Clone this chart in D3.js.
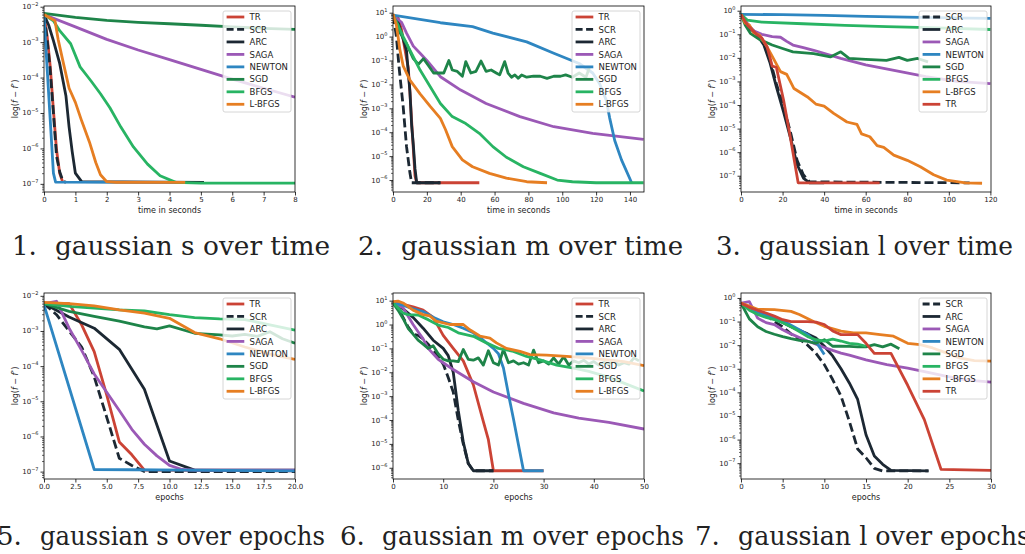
<!DOCTYPE html>
<html>
<head>
<meta charset="utf-8">
<script src="https://cdn.jsdelivr.net/npm/d3@7"></script>
<style>
  body { margin: 0; background: #fff; }
  text { font-family: "DejaVu Sans", sans-serif; fill: #222; }
</style>
</head>
<body>
<svg id="fig" width="1025" height="554"></svg>
<script>
// ---- data: [x, f - f*] pairs ----
// 1. gaussian s over time
const sTimeTR = [[0,6e-3],[0.1,1.5e-3],[0.2,2e-4],[0.3,1.2e-5],[0.4,9e-7],[0.5,2e-7],[0.6,1.1e-7]];
const sTimeSCR = [[0,6e-3],[0.1,1.2e-3],[0.2,1.5e-4],[0.3,1e-5],[0.4,6e-7],[0.5,2.2e-7],[0.6,1.2e-7],[0.7,1.1e-7]];
const sTimeARC = [[0,6e-3],[0.15,3e-3],[0.3,1.1e-3],[0.5,2.5e-4],[0.7,3e-5],[0.8,4e-6],[0.9,8e-7],[1.0,2e-7],[1.2,1.15e-7],[5.1,1.1e-7]];
const sTimeSAGA = [[0,6e-3],[1,2.7e-3],[2,1.2e-3],[3,6e-4],[4,3.2e-4],[5,1.7e-4],[6,9e-5],[7,5e-5],[8,2.8e-5]];
const sTimeNEWTON = [[0,6e-3],[0.05,1e-3],[0.3,2e-7],[0.37,1.12e-7],[4.5,1.1e-7]];
const sTimeSGD = [[0,6.5e-3],[1,5e-3],[2,4.1e-3],[3,3.6e-3],[4,3.3e-3],[5,3e-3],[6,2.7e-3],[7,2.45e-3],[8,2.3e-3]];
const sTimeBFGS = [[0,6e-3],[0.3,4e-3],[0.5,2.1e-3],[0.85,9e-4],[1.15,2e-4],[1.5,8e-5],[1.8,3.5e-5],[2.1,1.4e-5],[2.45,4e-6],[2.85,1.1e-6],[3.3,3.6e-7],[3.7,1.7e-7],[4.2,1.1e-7],[5,1.05e-7],[8,1.05e-7]];
const sTimeLBFGS = [[0,6e-3],[0.35,4e-3],[0.45,1.2e-3],[0.6,3e-4],[0.8,5e-5],[1.0,2e-5],[1.2,6e-6],[1.45,1.5e-6],[1.65,4e-7],[1.8,1.8e-7],[2.0,1.15e-7],[2.3,1.1e-7],[4.5,1.1e-7]];

// 2. gaussian m over time
const mTimeTR = [[0,8],[3,6],[5,2],[7,0.3],[9,0.05],[10,5e-3],[11,3e-4],[12,2e-5],[13,1.5e-6],[14,7.7e-7],[51,7.7e-7]];
const mTimeSCR = [[0,8],[1,3],[2,1],[3.5,0.06],[6,1.2e-3],[8,2.5e-5],[10,2e-6],[11,7.7e-7],[28,7.7e-7]];
const mTimeARC = [[0,8],[3,4],[6,0.8],[8,0.25],[10,5e-3],[11,2e-4],[12,3e-5],[13,3e-6],[14,7.7e-7],[28,7.7e-7]];
const mTimeSAGA = [[0,8],[5,4],[8,1.4],[12,0.4],[16,0.2],[20,0.1],[28,0.021],[40,5.8e-3],[55,1.6e-3],[75,4.5e-4],[95,1.7e-4],[118,9e-5],[148,5e-5]];
const mTimeNEWTON = [[0,8],[28,3.8],[47,2.6],[59,1.4],[79,0.6],[95,0.2],[110,0.075],[118,0.03],[122,0.011],[126,2.2e-3],[128,4e-4],[131,4.5e-5],[135,7e-6],[141,7.7e-7]];
const mTimeSGD = [[0,8],[4,1.5],[8,0.5],[12,0.12],[15,0.07],[18,0.12],[21,0.06],[24,0.03],[27,0.03],[30,0.03],[33,0.1],[35,0.04],[38,0.035],[41,0.022],[43,0.09],[46,0.03],[49,0.035],[52,0.095],[55,0.035],[58,0.04],[61,0.03],[63,0.025],[66,0.09],[68,0.03],[70,0.02],[72,0.025],[74,0.018],[76,0.025],[79,0.02],[83,0.022],[87,0.022],[91,0.018],[95,0.022],[99,0.022],[102,0.025],[106,0.02],[110,0.03],[114,0.02],[116,0.05]];
const mTimeBFGS = [[0,8],[3,3],[6,1],[10,0.27],[16,0.04],[22,8e-3],[28,1.6e-3],[35,4.5e-4],[43,2.3e-4],[51,9e-5],[59,2.5e-5],[67,9e-6],[77,3.6e-6],[87,1.9e-6],[97,1e-6],[106,8.5e-7],[120,7.7e-7],[148,7.7e-7]];
const mTimeLBFGS = [[0,9],[2,3],[3,1],[4,0.3],[6,0.06],[10,0.015],[16,4e-3],[22,1.2e-3],[28,3.8e-4],[31,1.3e-4],[35,2.5e-5],[41,7e-6],[47,3.6e-6],[57,1.9e-6],[67,1.2e-6],[79,8.5e-7],[91,7.7e-7]];

// 3. gaussian l over time
const lTimeSCR = [[0,0.7],[3,0.25],[7.5,0.11],[11,0.04],[14,8e-3],[17,8e-4],[20.5,8.5e-5],[24,6e-6],[27,4.5e-7],[30,1.1e-7],[33,5.5e-8],[110,5e-8]];
const lTimeARC = [[0,0.7],[3,0.22],[7.5,0.1],[11,0.035],[14,6e-3],[17,6e-4],[20.5,5e-5],[24,3.5e-6],[27,3e-7],[30,8e-8],[33,5e-8],[40,5e-8]];
const lTimeSAGA = [[0,0.7],[3,0.3],[6,0.14],[10,0.1],[15,0.08],[19,0.075],[22,0.05],[25,0.035],[30,0.027],[35,0.021],[48,9.5e-3],[60,5e-3],[73,3e-3],[89,1.6e-3],[104,1e-3],[120,8e-4]];
const lTimeNEWTON = [[0,0.7],[20,0.68],[40,0.63],[60,0.58],[80,0.53],[100,0.5],[120,0.47]];
const lTimeSGD = [[0,0.7],[2,0.25],[4.5,0.11],[9,0.06],[15,0.035],[20,0.025],[25,0.018],[35,0.015],[43,0.011],[48,0.018],[52,0.0095],[60,8.6e-3],[70,7.8e-3],[76,0.0105],[80,7.8e-3],[85,9.4e-3],[90,6.8e-3]];
const lTimeBFGS = [[0,0.7],[3,0.4],[10,0.33],[30,0.28],[50,0.24],[70,0.21],[90,0.19],[120,0.16]];
const lTimeLBFGS = [[0,0.7],[2,0.3],[4,0.25],[6,0.12],[9,0.09],[12.5,0.03],[15.7,9e-3],[19,2.6e-3],[22,2e-3],[25.5,5e-4],[32,2.2e-4],[36,1.1e-4],[40,9e-5],[44.6,4.4e-5],[51,1.9e-5],[55.8,1.5e-5],[58,6e-6],[62,4.5e-6],[65.5,1.9e-6],[68.7,1.6e-6],[73.5,7.5e-7],[80,4.5e-7],[86.3,2.4e-7],[92.7,1.1e-7],[99,6.5e-8],[108,5e-8],[116,4.8e-8]];
const lTimeTR = [[0,0.7],[3,0.25],[7.5,0.1],[10,0.07],[12.5,0.03],[14,0.01],[15,4.5e-3],[17,4e-3],[20.5,1.6e-4],[23.7,4.5e-6],[27.5,5e-8],[66.7,5e-8]];

// 5. gaussian s over epochs
const sEpTR = [[0,6e-3],[1,6e-3],[2,6e-3],[3,1.5e-3],[4,2.6e-4],[5,1.5e-5],[6,7e-7],[7,3e-7],[8,1.1e-7],[20,1.05e-7]];
const sEpSCR = [[0,6e-3],[1,2.9e-3],[2,1e-3],[3,3.5e-4],[4,5e-5],[5,3.5e-6],[6,2.4e-7],[7,1.5e-7],[8,1e-7],[20,1e-7]];
const sEpARC = [[0,6e-3],[2,2.5e-3],[4,1.2e-3],[6,3e-4],[8,2.2e-5],[10,2e-7],[12,1.1e-7],[20,1.1e-7]];
const sEpSAGA = [[0,6e-3],[1,7e-3],[2,1.2e-3],[3,2.8e-4],[4,6e-5],[5,1.8e-5],[6,5.5e-6],[7,1.6e-6],[8,6e-7],[9,2.8e-7],[10,1.5e-7],[11,1.15e-7],[12,1.1e-7],[20,1.1e-7]];
const sEpNEWTON = [[0,5.5e-3],[4,1.15e-7],[20,1.05e-7]];
const sEpSGD = [[0,6e-3],[2,3.6e-3],[4,2.6e-3],[6,1.9e-3],[8,1.3e-3],[9,1.15e-3],[10,1.4e-3],[12,8.6e-4],[14,7.7e-4],[15,7.2e-4],[16,8e-4],[17,7e-4],[18,9.5e-4],[19,6e-4],[20,4.5e-4]];
const sEpBFGS = [[0,6e-3],[2,5e-3],[4,4.5e-3],[6,4e-3],[8,3.7e-3],[10,2.9e-3],[12,2.4e-3],[14,2.2e-3],[16,2.1e-3],[18,1.5e-3],[20,1.05e-3]];
const sEpLBFGS = [[0,6.5e-3],[2,6e-3],[4,5.2e-3],[6,4e-3],[8,3.2e-3],[10,2.3e-3],[12,9e-4],[14,6e-4],[16,3.5e-4],[18,2.2e-4],[20,1.55e-4]];

// 6. gaussian m over epochs
const mEpTR = [[0,8],[2,7],[4,5.5],[6,4],[8,2],[10,0.35],[12,0.1],[14,0.03],[16,3e-3],[18,8.5e-5],[19,1.5e-5],[20,7.5e-7],[30,7.5e-7]];
const mEpSCR = [[0,8],[1,5],[2,2],[3,0.8],[4,0.4],[5,0.35],[6,0.25],[7,0.15],[8,0.08],[9,0.045],[10,0.022],[11,6e-3],[12,1.5e-3],[13,1e-4],[14,1e-5],[15,1.5e-6],[16,7.5e-7],[20,7.5e-7]];
const mEpARC = [[0,8],[2,4.5],[4,2],[6,0.7],[8,0.22],[10,0.1],[11,0.05],[12,0.01],[13,2.5e-4],[14,1.2e-5],[15,1.5e-6],[16,7.5e-7],[20,7.5e-7]];
const mEpSAGA = [[0,8],[2,5],[4,1],[5,0.5],[6,0.25],[7,0.1],[8,0.06],[9,0.035],[10,0.025],[12,0.013],[16,4e-3],[20,1.5e-3],[26,5e-4],[32,2e-4],[37,1.2e-4],[43,8e-5],[50,4.2e-5]];
const mEpNEWTON = [[0,8],[2,6.5],[4,4.5],[6,3.5],[8,2],[10,1.3],[12,1],[14,0.7],[16,0.45],[18,0.22],[20,0.1],[21,0.06],[22,0.015],[23,1.2e-3],[24,1.1e-4],[25,9e-6],[26,7.5e-7],[30,7.5e-7]];
const mEpSGD = [[0,8],[1,4],[2,1.8],[3,0.7],[4,0.4],[5,0.22],[6,0.15],[7,0.1],[8,0.13],[9,0.06],[10,0.035],[11,0.03],[12,0.03],[13,0.028],[14,0.09],[15,0.035],[16,0.032],[17,0.04],[18,0.02],[19,0.08],[20,0.025],[21,0.02],[22,0.09],[23,0.025],[24,0.03],[25,0.022],[26,0.025],[27,0.02],[28,0.085],[29,0.025],[30,0.03],[31,0.022],[32,0.04],[33,0.022],[34,0.045],[35,0.02],[36,0.03],[37,0.025],[38,0.032],[39,0.022],[40,0.028],[41,0.02],[42,0.026],[43,0.022],[44,0.03],[45,0.02],[46,0.025],[47,0.022],[48,0.04],[49,0.03]];
const mEpBFGS = [[0,8],[1,5],[2,3],[3,2.6],[5,2.5],[7,1.6],[9,0.95],[11,0.75],[13,0.45],[16,0.32],[18.6,0.17],[21,0.1],[24,0.075],[26.6,0.046],[29.3,0.033],[32.6,0.02],[36,0.015],[39,0.011],[42.6,6.6e-3],[46,3.5e-3],[50,1.65e-3]];
const mEpLBFGS = [[0,9],[1,9.5],[2,8],[4,4],[6,2.6],[7.3,2.3],[8.6,1.4],[11.3,1],[14,1],[15.3,0.6],[17.3,0.33],[19.3,0.27],[20.6,0.17],[22.6,0.1],[25.3,0.075],[27.3,0.055],[30.6,0.052],[34.6,0.046],[39.2,0.039],[42.6,0.033],[46,0.028],[50,0.019]];

// 7. gaussian l over epochs
const lEpSCR = [[0,0.6],[1,0.4],[2,0.28],[3,0.2],[4,0.1],[5,0.06],[6,0.03],[7,0.018],[8,0.01],[9,4.5e-3],[10,1.5e-3],[11,3.5e-4],[12,7e-5],[13,6e-6],[14,4e-7],[15,1.7e-7],[16,6e-8],[17,4.7e-8],[22.5,4.7e-8]];
const lEpARC = [[0,0.6],[2,0.3],[4,0.14],[6,0.06],[8,0.03],[9,0.02],[10,9e-3],[11,3.5e-3],[12,1e-3],[13,2.5e-4],[14,5e-5],[15,1.6e-6],[16,2e-7],[17,9e-8],[18,5e-8],[22.5,4.7e-8]];
const lEpSAGA = [[0,0.6],[1,0.7],[2,0.14],[3,0.09],[4,0.075],[5,0.045],[6,0.03],[7,0.021],[8,0.015],[9,0.011],[10,8e-3],[11,6e-3],[12,4.6e-3],[13,3.8e-3],[15,2.4e-3],[17.5,1.5e-3],[20,1.07e-3],[22.3,7.2e-4],[24.7,4.8e-4],[27,3.4e-4],[30,2.7e-4]];
const lEpNEWTON = [[0,0.6],[1,0.4],[2,0.25],[3,0.19],[4,0.14],[5,0.11],[6,0.07],[7,0.045],[8,0.028],[9,0.014],[10,4e-3]];
const lEpSGD = [[0,0.6],[1,0.13],[2,0.06],[3,0.038],[4,0.029],[5,0.023],[6,0.019],[7,0.016],[8,0.0145],[9,0.012],[10,0.017],[11,9e-3],[12,9e-3],[13,8.8e-3],[14,8.5e-3],[15,8.5e-3],[16,0.0105],[17,8.5e-3],[18,0.011],[19,7e-3]];
const lEpBFGS = [[0,0.6],[1,0.3],[2,0.2],[3,0.15],[4,0.12],[5,0.09],[6,0.06],[7,0.038],[8,0.023],[9,0.017],[10,0.015],[11,0.018],[12,0.015],[13,0.012],[14,0.011],[15,9e-3]];
const lEpLBFGS = [[0,0.6],[1,0.45],[2,0.33],[4,0.32],[6,0.27],[7,0.2],[8.7,0.1],[10,0.063],[12,0.039],[13.5,0.033],[15,0.033],[16.7,0.028],[18.3,0.024],[20,0.012],[21.5,0.0105],[23,7.6e-3],[24.7,4.6e-3],[26.3,2.8e-3],[28,2.2e-3],[30,2.1e-3]];
const lEpTR = [[0,0.6],[1,0.4],[2,0.3],[3,0.23],[4,0.17],[5,0.12],[6,0.1],[8,0.1],[9,0.095],[10,0.075],[11,0.04],[12,0.028],[14,0.028],[15,0.012],[16,4.5e-3],[18,4.5e-3],[20,2e-4],[22,7e-6],[24,5.5e-8],[30,5e-8]];

const orderA = ["TR", "SCR", "ARC", "SAGA", "NEWTON", "SGD", "BFGS", "L-BFGS"];
const orderB = ["SCR", "ARC", "SAGA", "NEWTON", "SGD", "BFGS", "L-BFGS", "TR"];
const captionNums = ["1.", "2.", "3.", "5.", "6.", "7."];
const captionTitles = ["gaussian s over time", "gaussian m over time", "gaussian l over time",
                       "gaussian s over epochs", "gaussian m over epochs", "gaussian l over epochs"];

const colors = {
    "TR": "#cb4335", "SCR": "#1c2833", "ARC": "#1c2833", "SAGA": "#9b59b6",
    "NEWTON": "#2e86c1", "SGD": "#1e8449", "BFGS": "#28b463", "L-BFGS": "#e67e22"
};

// panel layout (pixel boxes) + scales
const panels = [
    { left: 44, right: 295, top: 6, bottom: 192, xMax: 8, xTicks: d3.range(0, 9, 1), fmt: d3.format("d"),
      yLog: [-7.23, -1.98], xlabel: "time in seconds", order: orderA,
      series: { "TR": sTimeTR, "SCR": sTimeSCR, "ARC": sTimeARC, "SAGA": sTimeSAGA, "NEWTON": sTimeNEWTON, "SGD": sTimeSGD, "BFGS": sTimeBFGS, "L-BFGS": sTimeLBFGS } },
    { left: 393, right: 644, top: 6, bottom: 192, xMax: 148.3, xTicks: d3.range(0, 141, 20), fmt: d3.format("d"),
      yLog: [-6.5, 1.28], xlabel: "time in seconds", order: orderA,
      series: { "TR": mTimeTR, "SCR": mTimeSCR, "ARC": mTimeARC, "SAGA": mTimeSAGA, "NEWTON": mTimeNEWTON, "SGD": mTimeSGD, "BFGS": mTimeBFGS, "L-BFGS": mTimeLBFGS } },
    { left: 741, right: 991, top: 6, bottom: 192, xMax: 120.3, xTicks: d3.range(0, 121, 20), fmt: d3.format("d"),
      yLog: [-7.69, 0.2], xlabel: "time in seconds", order: orderB,
      series: { "TR": lTimeTR, "SCR": lTimeSCR, "ARC": lTimeARC, "SAGA": lTimeSAGA, "NEWTON": lTimeNEWTON, "SGD": lTimeSGD, "BFGS": lTimeBFGS, "L-BFGS": lTimeLBFGS } },
    { left: 44, right: 295, top: 293, bottom: 479, xMax: 20, xTicks: d3.range(0, 20.1, 2.5), fmt: d3.format(".1f"),
      yLog: [-7.21, -1.92], xlabel: "epochs", order: orderA,
      series: { "TR": sEpTR, "SCR": sEpSCR, "ARC": sEpARC, "SAGA": sEpSAGA, "NEWTON": sEpNEWTON, "SGD": sEpSGD, "BFGS": sEpBFGS, "L-BFGS": sEpLBFGS } },
    { left: 393, right: 644, top: 293, bottom: 479, xMax: 50, xTicks: d3.range(0, 51, 10), fmt: d3.format("d"),
      yLog: [-6.47, 1.32], xlabel: "epochs", order: orderA,
      series: { "TR": mEpTR, "SCR": mEpSCR, "ARC": mEpARC, "SAGA": mEpSAGA, "NEWTON": mEpNEWTON, "SGD": mEpSGD, "BFGS": mEpBFGS, "L-BFGS": mEpLBFGS } },
    { left: 741, right: 991, top: 293, bottom: 479, xMax: 30, xTicks: d3.range(0, 31, 5), fmt: d3.format("d"),
      yLog: [-7.67, 0.21], xlabel: "epochs", order: orderB,
      series: { "TR": lEpTR, "SCR": lEpSCR, "ARC": lEpARC, "SAGA": lEpSAGA, "NEWTON": lEpNEWTON, "SGD": lEpSGD, "BFGS": lEpBFGS, "L-BFGS": lEpLBFGS } }
];

const svg = d3.select("#fig");
svg.append("rect").attr("width", 1025).attr("height", 554).attr("fill", "#fff");

function drawPanel(p, idx) {
    const x = d3.scaleLinear().domain([0, p.xMax]).range([p.left, p.right]);
    const y = d3.scaleLog().domain([Math.pow(10, p.yLog[0]), Math.pow(10, p.yLog[1])]).range([p.bottom, p.top]);
    const g = svg.append("g");

    svg.append("clipPath").attr("id", "clip" + idx)
        .append("rect")
        .attr("x", p.left).attr("y", p.top)
        .attr("width", p.right - p.left).attr("height", p.bottom - p.top);

    // curves, in plotting order
    const line = d3.line().x(d => x(d[0])).y(d => y(d[1]));
    const lines = g.append("g").attr("clip-path", "url(#clip" + idx + ")");
    p.order.forEach(m => {
        lines.append("path")
            .datum(p.series[m])
            .attr("d", line)
            .attr("fill", "none")
            .attr("stroke", colors[m])
            .attr("stroke-width", 2.8)
            .attr("stroke-linejoin", "round")
            .attr("stroke-dasharray", m === "SCR" ? "9,4" : null);
    });

    // x axis
    const xAxis = g.append("g")
        .attr("transform", `translate(0,${p.bottom})`)
        .call(d3.axisBottom(x).tickValues(p.xTicks).tickFormat(p.fmt)
            .tickSizeInner(3.5).tickSizeOuter(0).tickPadding(2));
    xAxis.select(".domain").remove();
    xAxis.selectAll("line").attr("stroke", "#000").attr("stroke-width", 0.8);
    xAxis.selectAll("text").style("font-size", "7px").style("font-family", "DejaVu Sans").attr("fill", "#222");

    // y axis: majors + minors
    const lo = Math.ceil(p.yLog[0]), hi = Math.floor(p.yLog[1]);
    const majors = d3.range(lo, hi + 1).map(k => Math.pow(10, k));
    const minors = [];
    for (let k = Math.floor(p.yLog[0]); k <= hi; k++) {
        for (let m = 2; m <= 9; m++) {
            const v = m * Math.pow(10, k);
            if (Math.log10(v) >= p.yLog[0] && Math.log10(v) <= p.yLog[1]) minors.push(v);
        }
    }
    const yMinor = g.append("g").attr("transform", `translate(${p.left},0)`)
        .call(d3.axisLeft(y).tickValues(minors).tickFormat("").tickSizeInner(2).tickSizeOuter(0));
    yMinor.select(".domain").remove();
    yMinor.selectAll("line").attr("stroke", "#000").attr("stroke-width", 0.6);

    const yMajor = g.append("g").attr("transform", `translate(${p.left},0)`)
        .call(d3.axisLeft(y).tickValues(majors).tickFormat("").tickSizeInner(3.5).tickSizeOuter(0));
    yMajor.select(".domain").remove();
    yMajor.selectAll("line").attr("stroke", "#000").attr("stroke-width", 0.8);

    majors.forEach(v => {
        const k = Math.round(Math.log10(v));
        const t = g.append("text")
            .attr("x", p.left - 5.5)
            .attr("y", y(v) + 2.5)
            .attr("text-anchor", "end")
            .style("font-size", "7px");
        t.append("tspan").text("10");
        t.append("tspan").attr("dy", -3.5).style("font-size", "5px")
            .text(k < 0 ? "\u2212" + Math.abs(k) : String(k));
    });

    // spines
    g.append("rect")
        .attr("x", p.left).attr("y", p.top)
        .attr("width", p.right - p.left).attr("height", p.bottom - p.top)
        .attr("fill", "none").attr("stroke", "#000").attr("stroke-width", 0.8);

    // axis labels
    g.append("text")
        .attr("x", (p.left + p.right) / 2)
        .attr("y", p.bottom + 21)
        .attr("text-anchor", "middle")
        .style("font-size", "8px")
        .text(p.xlabel);

    const yl = g.append("text")
        .attr("transform", `translate(${p.left - 26},${(p.top + p.bottom) / 2}) rotate(-90)`)
        .attr("text-anchor", "middle")
        .style("font-size", "8px");
    yl.append("tspan").text("log(");
    yl.append("tspan").style("font-style", "italic").text("f");
    yl.append("tspan").text(" \u2212 ");
    yl.append("tspan").style("font-style", "italic").text("f");
    yl.append("tspan").attr("dy", -3).style("font-size", "5.5px").text("*");
    yl.append("tspan").attr("dy", 3).text(")");

    // legend
    const lw = 68, lh = 101;
    const lx = p.right - 4 - lw, ly = p.top + 5;
    const leg = g.append("g");
    leg.append("rect")
        .attr("x", lx).attr("y", ly).attr("width", lw).attr("height", lh)
        .attr("rx", 2)
        .attr("fill", "#fff").attr("fill-opacity", 0.8)
        .attr("stroke", "#ccc").attr("stroke-width", 0.8);
    p.order.forEach((m, i) => {
        const cy = ly + 6 + i * 12.47;
        leg.append("line")
            .attr("x1", lx + 3.6).attr("x2", lx + 21.3)
            .attr("y1", cy).attr("y2", cy)
            .attr("stroke", colors[m]).attr("stroke-width", 2.8)
            .attr("stroke-dasharray", m === "SCR" ? "7,3.5" : null);
        leg.append("text")
            .attr("x", lx + 26.6).attr("y", cy + 3.1)
            .style("font-size", "8.5px")
            .text(m);
    });
}

panels.forEach(drawPanel);

// captions under each subfigure
const capNumX = [12, 358, 716, -3, 340, 695];
const capTitleX = [55, 401, 759, 40, 382, 738];
const capTitleW = [275, 282, 254, 285, 302, 292];
const capY = [255, 255, 255, 545, 545, 545];
captionNums.forEach((n, i) => {
    svg.append("text")
        .attr("x", capNumX[i]).attr("y", capY[i])
        .style("font-family", "DejaVu Serif").style("font-size", "26px").attr("fill", "#000")
        .text(n);
    svg.append("text")
        .attr("x", capTitleX[i]).attr("y", capY[i])
        .attr("textLength", capTitleW[i])
        .attr("lengthAdjust", "spacingAndGlyphs")
        .style("font-family", "DejaVu Serif").style("font-size", "26px").attr("fill", "#000")
        .text(captionTitles[i]);
});
</script>
</body>
</html>
